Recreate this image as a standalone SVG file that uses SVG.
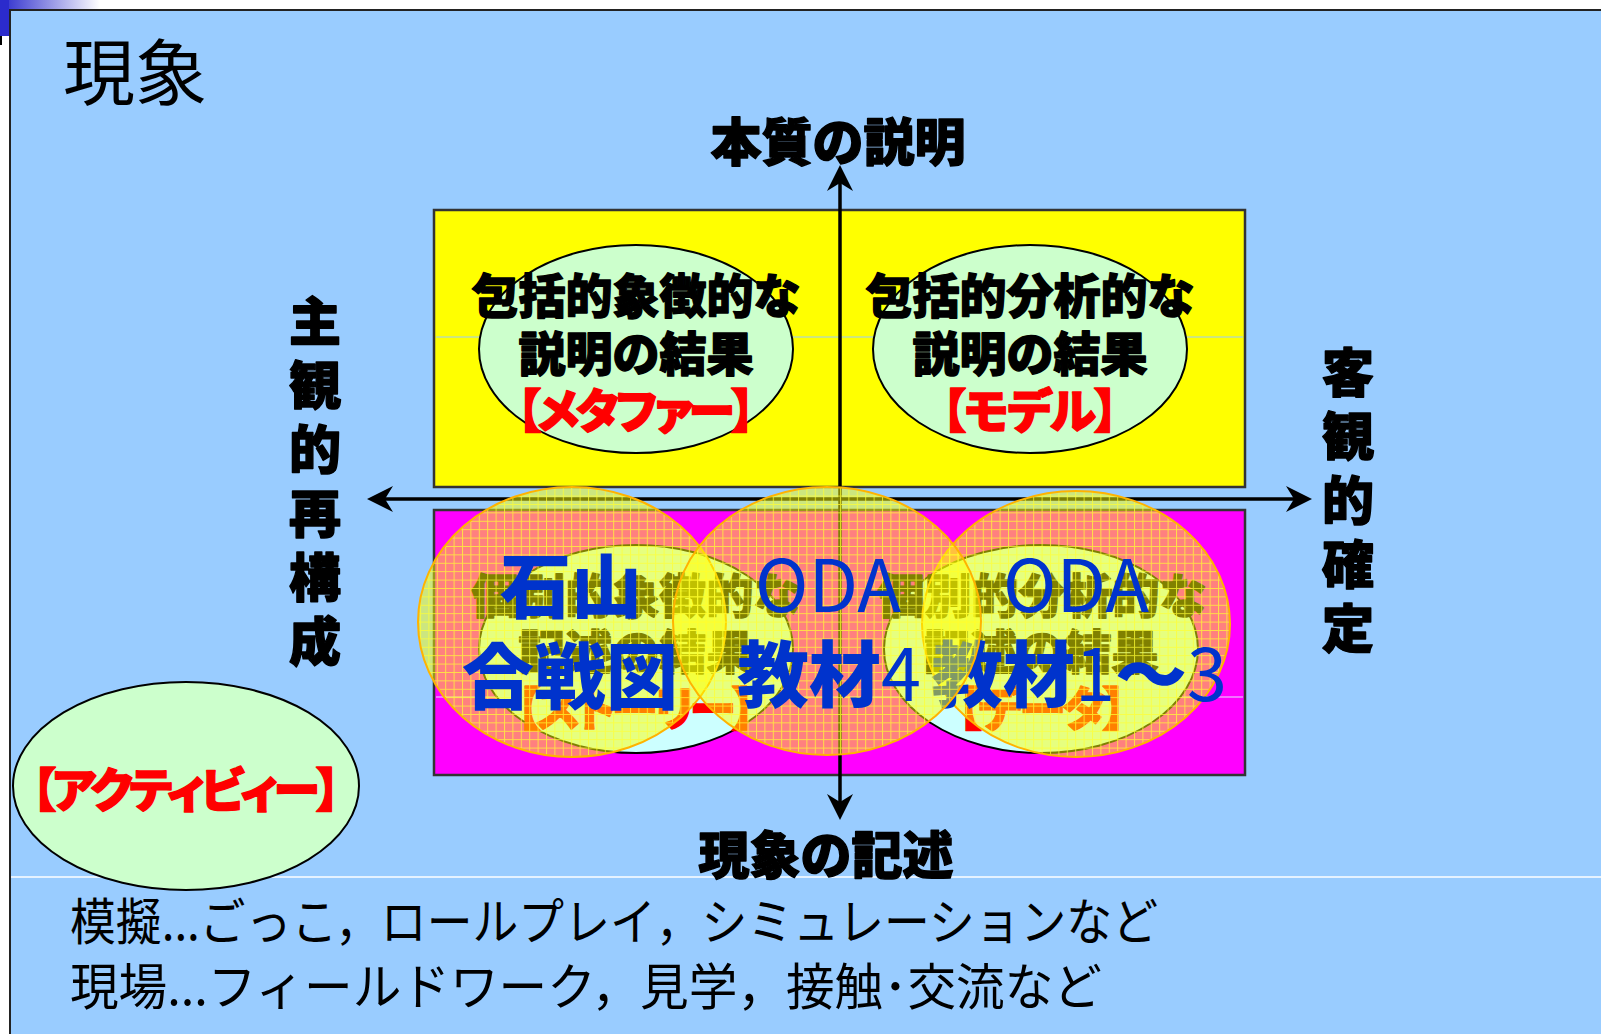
<svg xmlns="http://www.w3.org/2000/svg" width="1601" height="1034" viewBox="0 0 1601 1034">
<style>
text{font-family:"Noto Sans CJK JP","Noto Sans",sans-serif;}
.b{font-weight:900;}
.n{font-weight:normal;}
.blk{fill:#000;}
.hv{stroke-width:1.4;stroke-linejoin:round;}
.blk.hv{stroke:#000;}
.red{fill:#FF0000;}
.red.hv{stroke:#FF0000;}
.blue{fill:#0033CC;}
.palt{font-feature-settings:"palt";}
.quad{stroke:#333;stroke-width:2.5;}
.oval{stroke:#000;stroke-width:2;}
.ovl{fill:url(#grid);stroke:#FFB300;stroke-width:2;}
.axis{stroke:#000;stroke-width:3.5;fill:none;}
</style>
<defs>
<linearGradient id="corner" x1="0" y1="0" x2="1" y2="0">
<stop offset="0" stop-color="#2B2BCC"/>
<stop offset="1" stop-color="#FFFFFF"/>
</linearGradient>
<pattern id="grid" width="8.4" height="8.4" patternUnits="userSpaceOnUse">
<rect width="8.4" height="8.4" fill="#FFFF00" fill-opacity="0.5"/>
<path d="M0,0.5 H8.4 M0.5,0 V8.4" stroke="#FFFF33" stroke-opacity="0.75" stroke-width="1"/>
</pattern>
<marker id="arr" viewBox="-18 -14 30 28" markerWidth="30" markerHeight="28" refX="0" refY="0" orient="auto-start-reverse" markerUnits="userSpaceOnUse">
<path d="M10,0 L-16,-13 L-8,0 L-16,13 Z" fill="#000"/>
</marker>
</defs>

<g id="background">
<rect x="0" y="0" width="1601" height="1034" fill="#FFFFFF"/>
<rect x="0" y="0" width="100" height="10" fill="url(#corner)"/>
<rect x="0" y="0" width="9" height="36" fill="#2B2BCC"/>
<rect x="0" y="36" width="2" height="9" fill="#000"/>
<rect x="10" y="10" width="1600" height="1034" fill="#99CCFF" stroke="#222" stroke-width="2"/>
<line x1="11" y1="877" x2="1601" y2="877" stroke="#FFFFFF" stroke-width="1.5"/>
</g>

<g id="title">
<text x="63" y="99" font-size="72" class="n blk">現象</text>
</g>

<g id="quadrant-top">
<rect x="434" y="210" width="811" height="277" fill="#FFFF00" class="quad"/>
<line x1="436" y1="337" x2="1243" y2="337" stroke="#99CCFF" stroke-width="1"/>
</g>
<g id="quadrant-bottom">
<rect x="434" y="510" width="811" height="265" fill="#FF00FF" class="quad"/>
<line x1="436" y1="697" x2="1243" y2="697" stroke="#E6E6FF" stroke-width="1"/>
</g>

<g id="node-metaphor">
<ellipse cx="636" cy="349" rx="157" ry="104" fill="#CCFFCC" class="oval"/>
<text x="636" y="313" font-size="47" text-anchor="middle" class="b blk hv">包括的象徴的な</text>
<text x="636" y="371" font-size="47" text-anchor="middle" class="b blk hv">説明の結果</text>
<text x="636" y="428" font-size="47" text-anchor="middle" class="b red hv palt" textLength="238" lengthAdjust="spacing">【メタファー】</text>
</g>

<g id="node-model">
<ellipse cx="1030" cy="349" rx="157" ry="104" fill="#CCFFCC" class="oval"/>
<text x="1030" y="313" font-size="47" text-anchor="middle" class="b blk hv">包括的分析的な</text>
<text x="1030" y="371" font-size="47" text-anchor="middle" class="b blk hv">説明の結果</text>
<text x="1030" y="428" font-size="47" text-anchor="middle" class="b red hv palt" textLength="176" lengthAdjust="spacing">【モデル】</text>
</g>

<g id="node-story">
<ellipse cx="636" cy="649" rx="157" ry="104" fill="#CCFFFF" class="oval"/>
<text x="636" y="613" font-size="47" text-anchor="middle" class="b blk hv">個別的象徴的な</text>
<text x="636" y="669" font-size="47" text-anchor="middle" class="b blk hv">記述の結果</text>
<text x="636" y="726" font-size="47" text-anchor="middle" class="b red hv palt" textLength="239" lengthAdjust="spacing">【ストーリー】</text>
</g>

<g id="node-data">
<ellipse cx="1041" cy="649" rx="157" ry="104" fill="#CCFFFF" class="oval"/>
<text x="1042" y="613" font-size="47" text-anchor="middle" class="b blk hv">個別的分析的な</text>
<text x="1041" y="669" font-size="47" text-anchor="middle" class="b blk hv">記述の結果</text>
<text x="1042" y="726" font-size="47" text-anchor="middle" class="b red hv palt" textLength="169" lengthAdjust="spacing">【データ】</text>
</g>

<g id="connectors">
<line x1="840" y1="810" x2="840" y2="175" class="axis" marker-start="url(#arr)" marker-end="url(#arr)"/>
<line x1="377" y1="499" x2="1302" y2="499" class="axis" marker-start="url(#arr)" marker-end="url(#arr)"/>
</g>

<g id="label-top">
<text x="838" y="161" font-size="51" text-anchor="middle" class="b blk hv">本質の説明</text>
</g>
<g id="label-bottom">
<text x="826" y="874" font-size="51" text-anchor="middle" class="b blk hv">現象の記述</text>
</g>
<g id="label-left">
<text font-size="52" text-anchor="middle" class="b blk hv">
<tspan x="315" y="341">主</tspan><tspan x="315" y="405">観</tspan><tspan x="315" y="469">的</tspan><tspan x="315" y="533">再</tspan><tspan x="315" y="597">構</tspan><tspan x="315" y="661">成</tspan>
</text>
</g>
<g id="label-right">
<text font-size="52" text-anchor="middle" class="b blk hv">
<tspan x="1348" y="392">客</tspan><tspan x="1348" y="456">観</tspan><tspan x="1348" y="520">的</tspan><tspan x="1348" y="584">確</tspan><tspan x="1348" y="648">定</tspan>
</text>
</g>

<g id="overlay-ishiyama">
<ellipse cx="572" cy="622" rx="154" ry="135" class="ovl"/>
<text x="571" y="612" font-size="71" text-anchor="middle" class="b blue">石山</text>
<text x="570" y="703" font-size="72" text-anchor="middle" class="b blue">合戦図</text>
</g>

<g id="overlay-oda13">
<ellipse cx="1076" cy="624" rx="154" ry="133" class="ovl"/>
<text x="1076" y="612" font-size="72" text-anchor="middle" class="n blue">ODA</text>
<text x="931" y="701" font-size="72" class="blue"><tspan class="b">教材</tspan><tspan class="n">1</tspan><tspan class="b">～</tspan><tspan class="n">3</tspan></text>
</g>

<g id="overlay-oda4">
<ellipse cx="827" cy="621" rx="154" ry="134" class="ovl"/>
<text x="828" y="612" font-size="72" text-anchor="middle" class="n blue">ODA</text>
<text x="737" y="701" font-size="72" class="blue"><tspan class="b">教材</tspan><tspan class="n">4</tspan></text>
</g>

<g id="node-activity">
<ellipse cx="186" cy="786" rx="173" ry="104" fill="#CCFFCC" class="oval"/>
<text x="186" y="807" font-size="47" text-anchor="middle" class="b red hv palt" textLength="308" lengthAdjust="spacing">【アクティビィー】</text>
</g>

<g id="notes">
<text x="70" y="940" font-size="50" class="n blk" textLength="1088" lengthAdjust="spacingAndGlyphs">模擬...ごっこ，ロールプレイ，シミュレーションなど</text>
<text x="70" y="1005" font-size="50" class="n blk" textLength="1032" lengthAdjust="spacingAndGlyphs">現場...フィールドワーク，見学，接触･交流など</text>
</g>
</svg>
